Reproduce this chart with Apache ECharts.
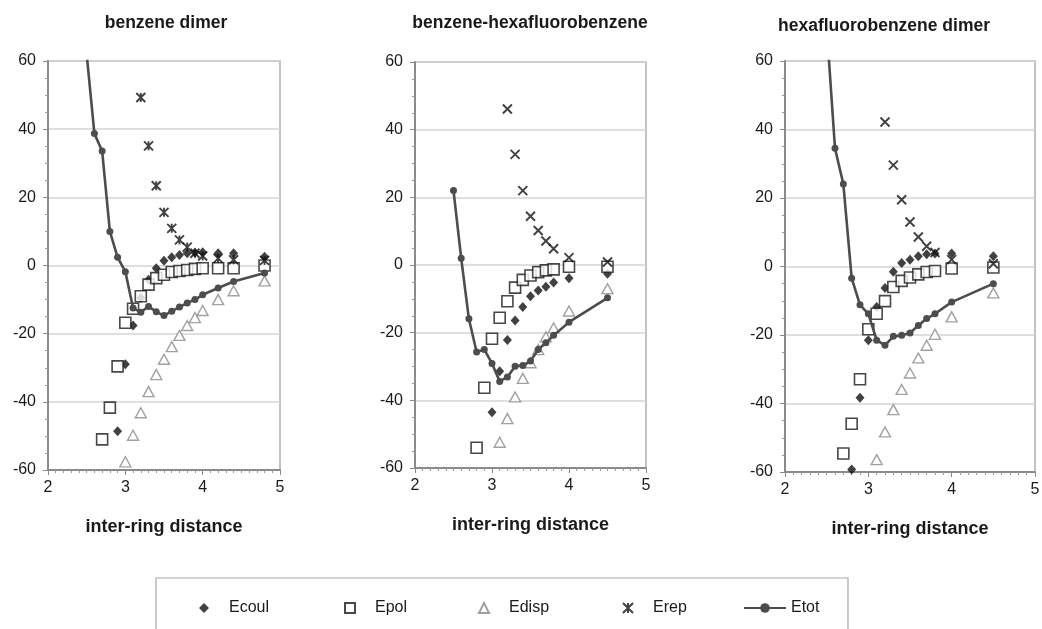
<!DOCTYPE html>
<html>
<head>
<meta charset="utf-8">
<script src="https://cdn.jsdelivr.net/npm/echarts@6/dist/echarts.min.js"></script>
<style>
html,body{margin:0;padding:0;background:#fff;}
#c{width:1042px;height:629px;}
</style>
</head>
<body>
<div id="c"></div>
<script>
// ---- data ----
const panelTitles = ['benzene dimer', 'benzene-hexafluorobenzene', 'hexafluorobenzene dimer'];
const seriesNames = ['Ecoul', 'Epol', 'Edisp', 'Erep', 'Etot'];
const xTitle = 'inter-ring distance';

// benzene dimer
const x1 = [2.5, 2.6, 2.7, 2.8, 2.9, 3.0, 3.1, 3.2, 3.3, 3.4, 3.5, 3.6, 3.7, 3.8, 3.9, 4.0, 4.2, 4.4, 4.8];
const ecoul1 = [null, null, null, null, -48.6, -29, -17.6, -9.5, -4.2, -0.8, 1.4, 2.4, 3.1, 3.6, 3.8, 3.9, 3.6, 3.6, 2.6];
const epol1 = [null, null, -51, -41.7, -29.6, -16.8, -12.7, -9, -5.6, -3.7, -2.7, -1.9, -1.6, -1.3, -1, -0.8, -0.8, -0.8, 0];
const edisp1 = [null, null, null, null, null, -57.6, -49.8, -43.2, -37, -32, -27.5, -23.8, -20.5, -17.6, -15.3, -13.2, -10, -7.4, -4.5];
const erep1 = [null, null, null, null, null, null, null, 49.3, 35.1, 23.4, 15.6, 10.9, 7.5, 5.4, 3.6, 2.8, 2.1, 1.7, 1.5];
const etot1 = [62, 38.7, 33.6, 10, 2.4, -1.8, -12.5, -13.7, -12, -13.6, -14.7, -13.4, -12.2, -11, -10, -8.6, -6.6, -4.7, -2.2];

// benzene-hexafluorobenzene
const x2 = [2.5, 2.6, 2.7, 2.8, 2.9, 3.0, 3.1, 3.2, 3.3, 3.4, 3.5, 3.6, 3.7, 3.8, 4.0, 4.5];
const ecoul2 = [null, null, null, null, null, -43.5, -31.4, -22.2, -16.4, -12.4, -9.2, -7.5, -6.4, -5.2, -3.9, -2.6];
const epol2 = [null, null, null, -54, -36.3, -21.8, -15.6, -10.7, -6.7, -4.4, -3.1, -2.1, -1.6, -1.3, -0.5, -0.5];
const edisp2 = [null, null, null, null, null, null, -52.4, -45.4, -39, -33.5, -28.9, -25, -21.2, -18.6, -13.6, -7];
const erep2 = [null, null, null, null, null, null, null, 46.1, 32.7, 22, 14.4, 10.2, 7.1, 4.8, 2.2, 0.9];
const etot2 = [22, 2, -15.9, -25.7, -25, -29.1, -34.4, -33.1, -29.9, -29.7, -28.4, -25, -23, -20.8, -16.9, -9.7];

// hexafluorobenzene dimer
const x3 = [2.5, 2.6, 2.7, 2.8, 2.9, 3.0, 3.1, 3.2, 3.3, 3.4, 3.5, 3.6, 3.7, 3.8, 4.0, 4.5];
const ecoul3 = [null, null, null, -59.3, -38.3, -21.5, -11.8, -6.3, -1.5, 1.0, 2.0, 3.0, 3.6, 3.8, 3.8, 3.0];
const epol3 = [null, null, -54.6, -45.9, -32.9, -18.3, -13.8, -10.1, -6.0, -4.2, -3.2, -2.3, -1.6, -1.3, -0.6, -0.3];
const edisp3 = [null, null, null, null, null, null, -56.4, -48.3, -41.8, -35.9, -31.1, -26.7, -23, -19.8, -14.7, -7.7];
const erep3 = [null, null, null, null, null, null, null, 42.2, 29.6, 19.5, 13.0, 8.6, 5.9, 4.1, 2.0, 0.8];
const etot3 = [70, 34.5, 24.1, -3.4, -11.2, -13.8, -21.5, -23, -20.4, -20.1, -19.4, -17.2, -15.2, -13.8, -10.4, -5];

const xTicks = [2, 3, 4, 5];
const yTicks = [-60, -40, -20, 0, 20, 40, 60];

// ---- chart ----
const FONT = '"Liberation Sans", Arial, sans-serif';
const panels = [
  {x: x1, s: [ecoul1, epol1, edisp1, erep1, etot1], grid: {left: 48, top: 61, width: 232, height: 409}, title: [166, 23], star: true},
  {x: x2, s: [ecoul2, epol2, edisp2, erep2, etot2], grid: {left: 415, top: 62, width: 231, height: 406}, title: [530, 23], star: false},
  {x: x3, s: [ecoul3, epol3, edisp3, erep3, etot3], grid: {left: 785, top: 61, width: 250, height: 411}, title: [884, 26], star: false}
];

function pairs(xs, ys) {
  const out = [];
  for (let i = 0; i < xs.length; i++) if (ys[i] !== null) out.push([xs[i], ys[i]]);
  return out;
}

const STAR = 'path://M0,0L10,10M10,0L0,10M5,0L5,10';
const CROSS = 'path://M0,0L10,10M10,0L0,10';

const grids = [], xAxes = [], yAxes = [], series = [], graphics = [];
panels.forEach((p, i) => {
  grids.push(Object.assign({show: true, borderColor: '#b0b0b0', borderWidth: 1.5, backgroundColor: 'transparent', containLabel: false, outerBoundsMode: 'none'}, p.grid));
  xAxes.push({
    type: 'value', gridIndex: i, min: xTicks[0], max: xTicks[xTicks.length - 1], interval: 1,
    name: xTitle, nameLocation: 'middle', nameGap: 48,
    nameTextStyle: {fontFamily: FONT, fontSize: 18, fontWeight: 'bold', color: '#1a1a1a'},
    axisLine: {onZero: false, lineStyle: {color: '#8a8a8a', width: 2}},
    axisTick: {show: true, inside: false, length: 5, lineStyle: {color: '#8a8a8a'}},
    minorTick: {show: true, splitNumber: 10, length: 3, lineStyle: {color: '#9a9a9a'}},
    axisLabel: {fontFamily: FONT, fontSize: 16, color: '#1a1a1a', margin: 10},
    splitLine: {show: false}
  });
  yAxes.push({
    type: 'value', gridIndex: i, min: yTicks[0], max: yTicks[yTicks.length - 1], interval: 20,
    axisLine: {show: true, onZero: false, lineStyle: {color: '#8a8a8a', width: 2}},
    axisTick: {show: true, inside: false, length: 5, lineStyle: {color: '#8a8a8a'}},
    minorTick: {show: true, splitNumber: 4, length: 3, lineStyle: {color: '#9a9a9a'}},
    axisLabel: {fontFamily: FONT, fontSize: 16, color: '#1a1a1a', margin: 12},
    splitLine: {show: true, lineStyle: {color: '#d4d4d4', width: 1.5}}
  });
  const [ec, ep, ed, er, et] = p.s;
  series.push({
    name: 'Ecoul', type: 'scatter', xAxisIndex: i, yAxisIndex: i, data: pairs(p.x, ec),
    symbol: 'diamond', symbolSize: [9, 10], itemStyle: {color: '#111'}, z: 3
  });
  series.push({
    name: 'Epol', type: 'scatter', xAxisIndex: i, yAxisIndex: i, data: pairs(p.x, ep),
    symbol: 'rect', symbolSize: 11, itemStyle: {color: '#fff', borderColor: '#1a1a1a', borderWidth: 1.6}, z: 3
  });
  series.push({
    name: 'Edisp', type: 'scatter', xAxisIndex: i, yAxisIndex: i, data: pairs(p.x, ed),
    symbol: 'triangle', symbolSize: [11, 10], itemStyle: {color: '#fff', borderColor: '#8a8a8a', borderWidth: 1.4}, z: 3
  });
  series.push({
    name: 'Erep', type: 'scatter', xAxisIndex: i, yAxisIndex: i, data: pairs(p.x, er),
    symbol: p.star ? STAR : CROSS, symbolSize: 9, itemStyle: {color: '#111', borderColor: '#111', borderWidth: 1.9}, z: 3
  });
  series.push({
    name: 'Etot', type: 'line', xAxisIndex: i, yAxisIndex: i, data: pairs(p.x, et),
    symbol: 'circle', symbolSize: 7, showSymbol: true, showAllSymbol: true, clip: true,
    itemStyle: {color: '#4d4d4d'}, lineStyle: {color: '#4d4d4d', width: 2.6}, z: 4
  });
  graphics.push({
    type: 'text', x: p.title[0], y: p.title[1],
    style: {text: panelTitles[i], fontFamily: FONT, fontSize: 17.5, fontWeight: 'bold', fill: '#1a1a1a', align: 'center', verticalAlign: 'middle'}
  });
});

// legend frame
graphics.push({type: 'rect', shape: {x: 156, y: 578, width: 692, height: 70}, style: {fill: 'none', stroke: '#a8a8a8', lineWidth: 1.2}, z: -1});

const legendCenters = [204, 349, 483, 627, 743];
const legends = seriesNames.map((n, k) => {
  const isLine = n === 'Etot';
  const w = isLine ? 42 : 10;
  return {
    left: isLine ? legendCenters[k] : legendCenters[k] - 5, top: 600, padding: 0, data: [n], selectedMode: false,
    itemWidth: w, itemHeight: isLine ? 12 : 10, itemGap: 0,
    textStyle: {fontFamily: FONT, fontSize: 16, color: '#1a1a1a', padding: isLine ? [0, 0, 0, 0] : [0, 0, 0, 15]}
  };
});

const chart = echarts.init(document.getElementById('c'), null, {renderer: 'canvas'});
chart.setOption({
  animation: false,
  backgroundColor: '#fff',
  grid: grids, xAxis: xAxes, yAxis: yAxes, series: series,
  legend: legends,
  graphic: graphics
});
</script>
</body>
</html>
